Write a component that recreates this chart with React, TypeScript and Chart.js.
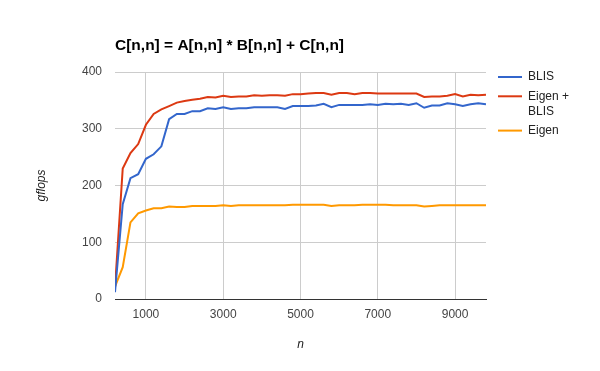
import React, { useEffect, useRef } from "react";
import { Chart, registerables } from "chart.js";
Chart.register(...registerables);

const nValues = [
  200, 400, 600, 800, 1000, 1200, 1400, 1600, 1800, 2000,
  2200, 2400, 2600, 2800, 3000, 3200, 3400, 3600, 3800, 4000,
  4200, 4400, 4600, 4800, 5000, 5200, 5400, 5600, 5800, 6000,
  6200, 6400, 6600, 6800, 7000, 7200, 7400, 7600, 7800, 8000,
  8200, 8400, 8600, 8800, 9000, 9200, 9400, 9600, 9800,
];
const blis = [
  12, 167, 213, 220, 247, 255, 269, 317, 326, 326,
  331, 331, 336, 335, 338, 335, 336, 336, 338, 338,
  338, 338, 335, 340, 340, 340, 341, 344, 338, 342,
  342, 342, 342, 343, 342, 344, 343, 344, 342, 345,
  337, 341, 341, 345, 343, 340, 343, 345, 343,
];
const eigenBlis = [
  20, 230, 257, 273, 307, 326, 334, 340, 346, 349,
  351, 353, 356, 355, 358, 356, 357, 357, 359, 358,
  359, 359, 358, 361, 361, 362, 363, 363, 360, 363,
  363, 361, 363, 363, 362, 362, 362, 362, 362, 362,
  356, 357, 357, 358, 361, 357, 360, 359, 360,
];
const eigen = [
  22, 56, 135, 151, 156, 160, 160, 163, 162, 162,
  164, 164, 164, 164, 165, 164, 165, 165, 165, 165,
  165, 165, 165, 166, 166, 166, 166, 166, 164, 165,
  165, 165, 166, 166, 166, 166, 165, 165, 165, 165,
  163, 164, 165, 165, 165, 165, 165, 165, 165,
];
const xTicks = [1000, 3000, 5000, 7000, 9000];
const yTicks = [0, 100, 200, 300, 400];
const seriesLabels = ["BLIS", "Eigen + BLIS", "Eigen"];
const legendLines = [["BLIS"], ["Eigen +", "BLIS"], ["Eigen"]];
const seriesColors = ["#3366cc", "#dc3912", "#ff9900"];
const chartTitle = "C[n,n] = A[n,n] * B[n,n] + C[n,n]";
const xTitle = "n";
const yTitle = "gflops";

const FONT = '"Liberation Sans", Arial, sans-serif';

const overlay = {
  id: "overlay",
  afterDraw(chart: any) {
    const ctx = chart.ctx;
    ctx.save();
    ctx.textBaseline = "middle";
    ctx.textAlign = "left";
    ctx.fillStyle = "#000";
    ctx.font = `bold 15.5px ${FONT}`;
    ctx.fillText(chartTitle, chart.chartArea.left, 46);
    ctx.font = `12px ${FONT}`;
    let y = 77;
    chart.data.datasets.forEach((ds: any, i: number) => {
      ctx.strokeStyle = ds.borderColor;
      ctx.lineWidth = 2;
      ctx.beginPath();
      ctx.moveTo(498, y);
      ctx.lineTo(522, y);
      ctx.stroke();
      ctx.fillStyle = "#222";
      const lines = legendLines[i];
      lines.forEach((t, j) => ctx.fillText(t, 528, y + j * 15));
      y += (lines.length - 1) * 15 + 19.3;
    });
    ctx.restore();
  },
};

export default function App() {
  const ref = useRef<HTMLCanvasElement>(null);
  useEffect(() => {
    if (!ref.current) return;
    const series = [blis, eigenBlis, eigen];
    const chart = new Chart(ref.current, {
      type: "line",
      data: {
        datasets: series.map((s, i) => ({
          label: seriesLabels[i],
          data: nValues.map((n, k) => ({ x: n, y: s[k] })),
          borderColor: seriesColors[i],
          backgroundColor: seriesColors[i],
          borderWidth: 2,
          pointRadius: 0,
          tension: 0,
          fill: false,
        })),
      },
      options: {
        animation: false,
        responsive: false,
        layout: { padding: { top: 72, right: 114, left: 0, bottom: 0 } },
        plugins: { legend: { display: false }, title: { display: false }, tooltip: { enabled: false } },
        scales: {
          x: {
            type: "linear",
            min: 200,
            max: 9800,
            afterBuildTicks: (s: any) => {
              s.ticks = xTicks.map((v) => ({ value: v }));
            },
            afterFit: (s: any) => {
              s.height = 72;
            },
            grid: { color: "#cccccc", drawTicks: false },
            border: { display: true, color: "#333333", width: 1 },
            ticks: {
              padding: 8,
              autoSkip: false,
              maxRotation: 0,
              color: "#444444",
              font: { family: FONT, size: 12 },
              callback: (v: any) => String(v),
            },
            title: {
              display: true,
              text: xTitle,
              color: "#222222",
              font: { family: FONT, size: 12, style: "italic" },
              padding: { top: 0, bottom: 19 },
            },
          },
          y: {
            min: 0,
            max: 400,
            afterBuildTicks: (s: any) => {
              s.ticks = yTicks.map((v) => ({ value: v }));
            },
            afterFit: (s: any) => {
              s.width = 115;
            },
            grid: {
              color: (c: any) => (c.tick && c.tick.value === 0 ? "#333333" : "#cccccc"),
              drawTicks: false,
            },
            border: { display: false },
            ticks: {
              padding: 13,
              color: "#444444",
              font: { family: FONT, size: 12 },
              callback: (v: any) => String(v),
            },
            title: {
              display: true,
              text: yTitle,
              color: "#222222",
              font: { family: FONT, size: 12, style: "italic" },
              padding: { top: 34, bottom: 0 },
            },
          },
        },
      },
      plugins: [overlay],
    } as any);
    return () => chart.destroy();
  }, []);
  return (
    <div style={{ position: "absolute", left: 0, top: 0, width: 600, height: 371, background: "#fff" }}>
      <canvas ref={ref} width={600} height={371} />
    </div>
  );
}
